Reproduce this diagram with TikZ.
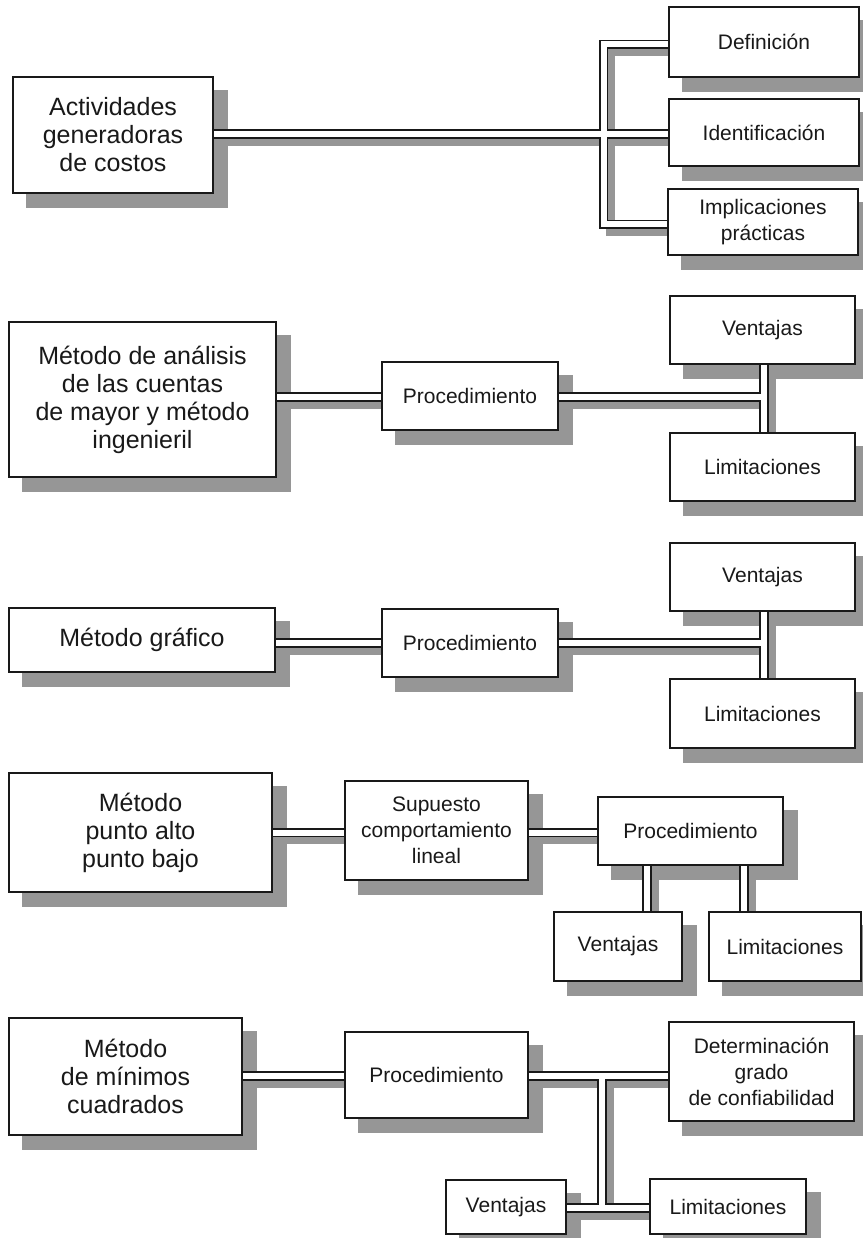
\documentclass[tikz,border=0pt]{standalone}
\usepackage{fontspec}
\setmainfont{Liberation Sans}
\pgfdeclarelayer{shadowl}
\pgfdeclarelayer{pipel}
\pgfsetlayers{shadowl,pipel,main}
\definecolor{shd}{RGB}{150,150,150}
\definecolor{ink}{RGB}{25,25,25}
\tikzset{
  box/.style={draw=ink, line width=1.6pt, fill=white, inner sep=0pt, align=center, text=ink},
  big/.style={box, font=\fontsize{25}{28}\selectfont},
  small/.style={box, font=\fontsize{21}{26}\selectfont},
  pipeout/.style={draw=ink, line width=9.6pt, line join=miter, line cap=butt},
  pipein/.style={draw=white, line width=6.0pt, line join=miter, line cap=butt},
  pipeshd/.style={draw=shd, line width=9.6pt, line join=miter, line cap=butt},
}
\newcommand\drawpipes[1]{%
  % section 1
  \draw[#1] (A.east |- j1) -- (Ident.west |- j1);
  \draw[#1] (Def.west |- t1) -- (t1) -- (b1) -- (Impl.west |- b1);
  % section 2
  \draw[#1] (B.east |- j2) -- (ProcB.west |- j2);
  \draw[#1] (ProcB.east |- j2) -- (j2);
  \draw[#1] (VentB.south -| j2) -- (LimB.north -| j2);
  % section 3
  \draw[#1] (C.east |- j3) -- (ProcC.west |- j3);
  \draw[#1] (ProcC.east |- j3) -- (j3);
  \draw[#1] (VentC.south -| j3) -- (LimC.north -| j3);
  % section 4
  \draw[#1] (D.east |- j4) -- (Sup.west |- j4);
  \draw[#1] (Sup.east |- j4) -- (ProcD.west |- j4);
  \draw[#1] (ProcD.south -| v4a) -- (VentD.north -| v4a);
  \draw[#1] (ProcD.south -| v4b) -- (LimD.north -| v4b);
  % section 5
  \draw[#1] (E.east |- j5) -- (ProcE.west |- j5);
  \draw[#1] (ProcE.east |- j5) -- (Det.west |- j5);
  \draw[#1] (j5) -- (k5);
  \draw[#1] (VentE.east |- k5) -- (LimE.west |- k5);
}
\newcommand\boxshd[1]{\fill[shd] ([shift={(14pt,-14pt)}]#1.south west) rectangle ([shift={(14pt,-14pt)}]#1.north east);}
\begin{document}
\begin{tikzpicture}[x=1pt,y=-1pt]
\useasboundingbox (0,0) rectangle (862,1238);
% coordinates for connector routing
\coordinate (j1) at (603.5,134);
\coordinate (t1) at (603.5,44.5);
\coordinate (b1) at (603.5,224.5);
\coordinate (j2) at (764,397);
\coordinate (j3) at (764,643);
\coordinate (j4) at (0,832.5);
\coordinate (v4a) at (647,0);
\coordinate (v4b) at (744,0);
\coordinate (j5) at (602,1076);
\coordinate (k5) at (602,1208);
% section 1
\node[big, minimum width=200, minimum height=116] (A) at (113,135) {Actividades\\generadoras\\de costos};
\node[small, minimum width=190, minimum height=70] (Def) at (764,42) {Definición};
\node[small, minimum width=190, minimum height=67] (Ident) at (764,132.5) {Identificación};
\node[small, minimum width=190, minimum height=66] (Impl) at (763,222) {Implicaciones\\prácticas};
% section 2
\node[big, minimum width=267, minimum height=155] (B) at (142.5,399.5) {Método de análisis\\de las cuentas\\de mayor y método\\ingenieril};
\node[small, minimum width=176, minimum height=68] (ProcB) at (470,396) {Procedimiento};
\node[small, minimum width=185, minimum height=68] (VentB) at (762.5,330) {Ventajas};
\node[small, minimum width=185, minimum height=68] (LimB) at (762.5,467) {Limitaciones};
% section 3
\node[big, minimum width=266, minimum height=64] (C) at (142,640) {Método gráfico};
\node[small, minimum width=176, minimum height=68] (ProcC) at (470,643) {Procedimiento};
\node[small, minimum width=185, minimum height=68] (VentC) at (762.5,577) {Ventajas};
\node[small, minimum width=185, minimum height=69] (LimC) at (762.5,713.5) {Limitaciones};
% section 4
\node[big, minimum width=263, minimum height=119] (D) at (140.5,832.5) {Método\\punto alto\\punto bajo};
\node[small, minimum width=183, minimum height=99] (Sup) at (436.5,830.5) {Supuesto\\comportamiento\\lineal};
\node[small, minimum width=185, minimum height=68] (ProcD) at (690.5,831) {Procedimiento};
\node[small, minimum width=128, minimum height=69] (VentD) at (618,946.5) {Ventajas};
\node[small, minimum width=152, minimum height=69] (LimD) at (785,946.5) {Limitaciones};
% section 5
\node[big, minimum width=233, minimum height=117] (E) at (125.5,1076.5) {Método\\de mínimos\\cuadrados};
\node[small, minimum width=183, minimum height=86] (ProcE) at (436.5,1075) {Procedimiento};
\node[small, minimum width=185, minimum height=99] (Det) at (761.5,1071.5) {Determinación\\grado\\de confiabilidad};
\node[small, minimum width=120, minimum height=54] (VentE) at (506,1207) {Ventajas};
\node[small, minimum width=156, minimum height=55] (LimE) at (728,1206.5) {Limitaciones};
% shadows
\begin{pgfonlayer}{shadowl}
  \fill[white] (0,0) rectangle (862,1238);
  \foreach \n in {A,Def,Ident,Impl,B,ProcB,VentB,LimB,C,ProcC,VentC,LimC,D,Sup,ProcD,VentD,LimD,E,ProcE,Det,VentE,LimE}{\boxshd{\n}}
  \begin{scope}[transform canvas={shift={(7pt,-7pt)}}]
    \drawpipes{pipeshd}
  \end{scope}
\end{pgfonlayer}
% pipes
\begin{pgfonlayer}{pipel}
  \drawpipes{pipeout}
  \drawpipes{pipein}
\end{pgfonlayer}
\end{tikzpicture}
\end{document}
